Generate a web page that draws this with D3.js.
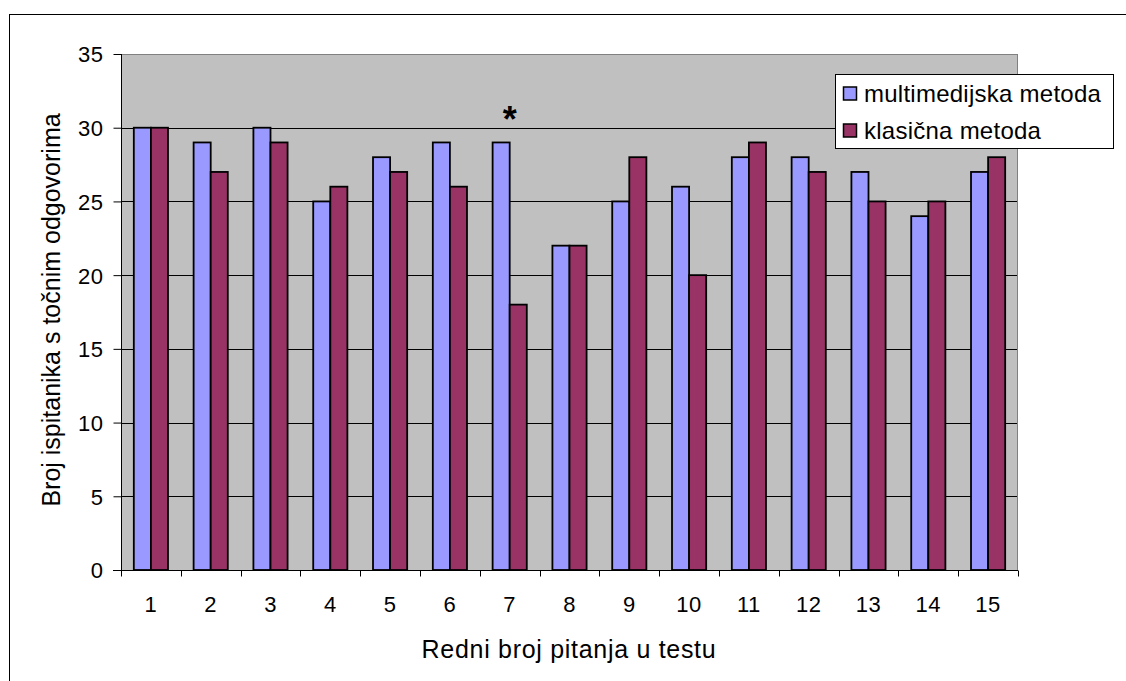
<!DOCTYPE html>
<html><head><meta charset="utf-8">
<script src="https://cdn.jsdelivr.net/npm/d3@7"></script>
<style>body{margin:0;background:#fff}svg{display:block;font-family:"Liberation Sans",Arial,sans-serif}</style>
</head><body>
<svg id="c" width="1126" height="681"></svg>
<script>
const categories = ["1","2","3","4","5","6","7","8","9","10","11","12","13","14","15"];
const seriesNames = ["multimedijska metoda","klasična metoda"];
const multimedijska = [30,29,30,25,28,29,29,22,25,26,28,28,27,24,27];
const klasicna = [30,27,29,26,27,26,18,22,28,20,29,27,25,25,28];
const yTicks = [0,5,10,15,20,25,30,35];
const colors = ["#9999FF","#993366"];
const markedCategory = "7";

const svg = d3.select("#c");
const L=121, R=1018, T=54, B=570;

svg.append("rect").attr("x",9.5).attr("y",14.5).attr("width",1130).attr("height",700)
  .attr("fill","#fff").attr("stroke","#000").attr("stroke-width",1);

const x = d3.scaleBand().domain(categories).range([L,R]).paddingInner(0).paddingOuter(0);
const y = d3.scaleLinear().domain([0,35]).range([B,T]);

svg.append("rect").attr("x",L).attr("y",T).attr("width",R-L).attr("height",B-T).attr("fill","#C0C0C0");

svg.append("g").selectAll("line").data(yTicks.filter(d=>d>0 && d<35)).join("line")
  .attr("x1",L).attr("x2",R).attr("y1",d=>Math.round(y(d))+0.5).attr("y2",d=>Math.round(y(d))+0.5)
  .attr("stroke","#000").attr("stroke-width",1);

svg.append("rect").attr("x",L+0.5).attr("y",T+0.5).attr("width",R-L-1).attr("height",B-T)
  .attr("fill","none").attr("stroke","#808080").attr("stroke-width",1);

const bw = x.bandwidth()/3.5;
const series=[multimedijska,klasicna];
series.forEach((vals,si)=>{
  svg.append("g").selectAll("rect").data(vals).join("rect")
    .attr("x",(d,i)=>x(categories[i])+0.75*bw+si*bw)
    .attr("y",d=>y(d))
    .attr("width",bw).attr("height",d=>B-y(d))
    .attr("fill",colors[si]).attr("stroke","#000").attr("stroke-width",1.8);
});

const ya = d3.axisLeft(y).tickValues(yTicks).tickSize(8).tickPadding(10).tickFormat(d3.format("d"));
const gy = svg.append("g").attr("transform",`translate(${L+0.5},0)`).call(ya);
gy.select(".domain").attr("d",`M0,${T}V${B}`).attr("stroke","#000");
gy.selectAll(".tick line").attr("stroke","#000");
gy.selectAll("text").attr("font-size",22).attr("fill","#000").attr("font-family","Liberation Sans, Arial, sans-serif").attr("dy","0.36em").attr("letter-spacing","0.5px");

const gx = svg.append("g").attr("transform",`translate(0,${B+0.5})`);
gx.append("line").attr("x1",L-8).attr("x2",R).attr("stroke","#000");
const bounds = categories.map(c=>x(c)).concat([R]);
gx.selectAll("line.t").data(bounds).join("line").attr("class","t")
  .attr("x1",d=>Math.round(d)+0.5).attr("x2",d=>Math.round(d)+0.5).attr("y1",0).attr("y2",6).attr("stroke","#000");
gx.selectAll("text").data(categories).join("text")
  .attr("x",d=>x(d)+x.bandwidth()/2).attr("y",41.5).attr("text-anchor","middle")
  .attr("font-size",22).attr("letter-spacing","0.5px").attr("fill","#000").text(d=>d);

svg.append("text").attr("x",x(markedCategory)+x.bandwidth()/2).attr("y",132)
  .attr("text-anchor","middle").attr("font-size",36).attr("font-weight","bold").attr("fill","#000").text("*");

svg.append("text").attr("x",569).attr("y",658).attr("text-anchor","middle")
  .attr("font-size",25).attr("letter-spacing","0.7px").attr("fill","#000").text("Redni broj pitanja u testu");
svg.append("text").attr("transform",`translate(60,310) rotate(-90)`).attr("text-anchor","middle")
  .attr("font-size",25).attr("fill","#000").text("Broj ispitanika s točnim odgovorima");

const lg = svg.append("g");
lg.append("rect").attr("x",835.5).attr("y",74.5).attr("width",278).attr("height",74)
  .attr("fill","#fff").attr("stroke","#000");
seriesNames.forEach((n,i)=>{
  const base = 102 + i*37;
  lg.append("rect").attr("x",843.5).attr("y",base-15).attr("width",13).attr("height",13)
    .attr("fill",colors[i]).attr("stroke","#000").attr("stroke-width",1.5);
  lg.append("text").attr("x",864).attr("y",base).attr("font-size",24).attr("letter-spacing","0.25px").attr("fill","#000").text(n);
});
</script>
</body></html>
